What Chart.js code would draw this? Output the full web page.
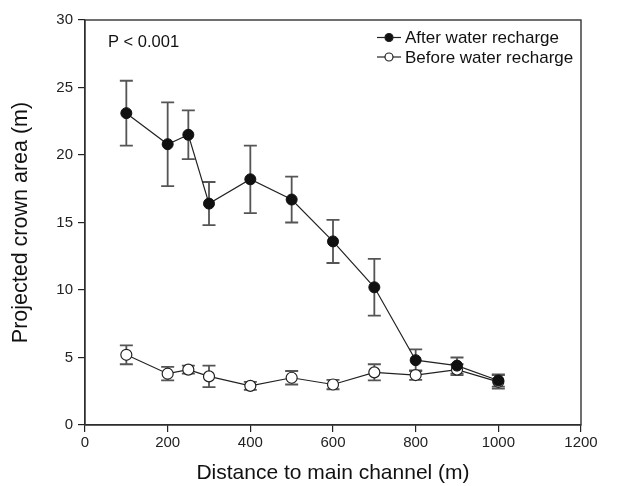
<!DOCTYPE html>
<html>
<head>
<meta charset="utf-8">
<script src="https://cdn.jsdelivr.net/npm/chart.js@4/dist/chart.umd.min.js"></script>
<style>
html,body{margin:0;padding:0;background:#fff;}
#wrap{width:628px;height:486px;position:relative;}
</style>
</head>
<body>
<div id="wrap"><canvas id="c"></canvas></div>
<script>
const distances = [100, 200, 250, 300, 400, 500, 600, 700, 800, 900, 1000];
const afterMean = [23.1, 20.8, 21.5, 16.4, 18.2, 16.7, 13.6, 10.2, 4.8, 4.4, 3.3];
const afterErr  = [2.4, 3.1, 1.8, 1.6, 2.5, 1.7, 1.6, 2.1, 0.8, 0.6, 0.45];
const beforeMean = [5.2, 3.8, 4.1, 3.6, 2.9, 3.5, 3.0, 3.9, 3.7, 4.1, 3.2];
const beforeErr  = [0.7, 0.5, 0.3, 0.8, 0.3, 0.5, 0.35, 0.6, 0.35, 0.4, 0.5];
const seriesNames = ['After water recharge', 'Before water recharge'];
const xTicks = [0, 200, 400, 600, 800, 1000, 1200];
const yTicks = [0, 5, 10, 15, 20, 25, 30];
const annotationText = 'P < 0.001';

const FONT = '"Liberation Sans", Arial, sans-serif';
const errs = [afterErr, beforeErr];

const errorBars = {
  id: 'errorBars',
  beforeDatasetsDraw(chart) {
    const ctx = chart.ctx, xs = chart.scales.x, ys = chart.scales.y;
    ctx.save();
    ctx.strokeStyle = '#555';
    ctx.lineWidth = 1.8;
    chart.data.datasets.forEach((ds, di) => {
      ds.data.forEach((p, i) => {
        const e = errs[di][i];
        const px = xs.getPixelForValue(p.x);
        const yt = ys.getPixelForValue(p.y + e);
        const yb = ys.getPixelForValue(p.y - e);
        ctx.beginPath();
        ctx.moveTo(px, yt); ctx.lineTo(px, yb);
        ctx.moveTo(px - 6.5, yt); ctx.lineTo(px + 6.5, yt);
        ctx.moveTo(px - 6.5, yb); ctx.lineTo(px + 6.5, yb);
        ctx.stroke();
      });
    });
    ctx.restore();
  }
};

const frameAndLegend = {
  id: 'frameAndLegend',
  afterDraw(chart) {
    const ctx = chart.ctx, a = chart.chartArea;
    ctx.save();
    ctx.strokeStyle = '#333';
    ctx.lineWidth = 1.4;
    ctx.strokeRect(a.left, a.top, a.right - a.left, a.bottom - a.top);
    // annotation
    ctx.fillStyle = '#111';
    ctx.font = '16.5px ' + FONT;
    ctx.textBaseline = 'middle';
    ctx.textAlign = 'left';
    ctx.fillText(annotationText, 108, 42);
    // legend
    ctx.font = '17px ' + FONT;
    const rows = [{y: 37.5, fill: '#111'}, {y: 57, fill: '#fff'}];
    rows.forEach((r, i) => {
      ctx.strokeStyle = '#222';
      ctx.lineWidth = 1.2;
      ctx.beginPath();
      ctx.moveTo(377, r.y); ctx.lineTo(401, r.y);
      ctx.stroke();
      ctx.beginPath();
      ctx.arc(389, r.y, 4, 0, Math.PI * 2);
      ctx.fillStyle = r.fill;
      ctx.fill();
      ctx.stroke();
      ctx.fillStyle = '#111';
      ctx.fillText(seriesNames[i], 405, r.y + 1);
    });
    ctx.restore();
  }
};

const mk = (xs, ys) => xs.map((x, i) => ({x, y: ys[i]}));

new Chart(document.getElementById('c'), {
  type: 'line',
  data: {
    datasets: [
      {
        label: seriesNames[0],
        data: mk(distances, afterMean),
        borderColor: '#222', borderWidth: 1.2,
        pointBackgroundColor: '#111', pointBorderColor: '#111',
        pointRadius: 5.5, pointBorderWidth: 1, tension: 0
      },
      {
        label: seriesNames[1],
        data: mk(distances, beforeMean),
        borderColor: '#222', borderWidth: 1.2,
        pointBackgroundColor: '#fff', pointBorderColor: '#222',
        pointRadius: 5.5, pointBorderWidth: 1.2, tension: 0
      }
    ]
  },
  options: {
    responsive: true,
    maintainAspectRatio: false,
    animation: false,
    layout: {padding: {left: 8, right: 47, top: 20, bottom: 0}},
    plugins: {legend: {display: false}, tooltip: {enabled: false}},
    scales: {
      x: {
        type: 'linear', min: 0, max: 1200,
        afterBuildTicks: s => { s.ticks = xTicks.map(v => ({value: v})); },
        afterFit: s => { s.height = 61; },
        grid: {drawOnChartArea: false, tickLength: 7, color: '#222', lineWidth: 1.2},
        border: {color: '#222', width: 1.2},
        ticks: {color: '#222', font: {family: FONT, size: 15}, padding: 2, maxRotation: 0,
                callback: v => String(v)},
        title: {display: true, text: 'Distance to main channel (m)', color: '#111',
                font: {family: FONT, size: 21}, padding: {top: 3, bottom: 0}}
      },
      y: {
        type: 'linear', min: 0, max: 30,
        afterBuildTicks: s => { s.ticks = yTicks.map(v => ({value: v})); },
        afterFit: s => { s.width = 77; },
        grid: {drawOnChartArea: false, tickLength: 7, color: '#222', lineWidth: 1.2},
        border: {color: '#222', width: 1.2},
        ticks: {color: '#222', font: {family: FONT, size: 15}, padding: 5,
                callback: v => String(v)},
        title: {display: true, text: 'Projected crown area (m)', color: '#111',
                font: {family: FONT, size: 21.5}, padding: {top: 0, bottom: 6}}
      }
    }
  },
  plugins: [errorBars, frameAndLegend]
});
</script>
</body>
</html>
